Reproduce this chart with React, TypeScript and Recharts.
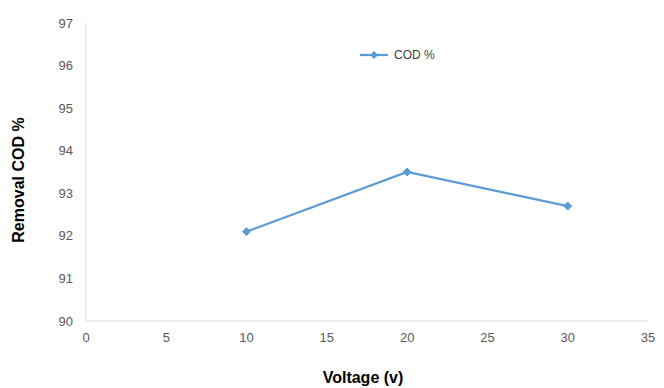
import React from "react";
import { LineChart, Line, XAxis, YAxis, Legend } from "recharts";

// Applied voltage (v) and the resulting COD removal (%)
const voltages = [10, 20, 30];
const codRemoval = [92.1, 93.5, 92.7];

const xTicks = [0, 5, 10, 15, 20, 25, 30, 35];
const yTicks = [90, 91, 92, 93, 94, 95, 96, 97];

const SERIES_NAME = "COD %";
const LINE_COLOR = "#5B9BD5";
const AXIS_COLOR = "#D9D9D9";
const TICK_COLOR = "#595959";
const FONT = "'Liberation Sans', Arial, sans-serif";

const data = voltages.map((v, i) => ({ voltage: v, cod: codRemoval[i] }));

const Diamond = (props: any) => {
  const { cx, cy } = props;
  if (cx == null || cy == null) return null;
  const r = 4;
  return (
    <polygon
      points={`${cx},${cy - r} ${cx + r},${cy} ${cx},${cy + r} ${cx - r},${cy}`}
      fill={LINE_COLOR}
      stroke={LINE_COLOR}
    />
  );
};

const LegendContent = () => (
  <div style={{ display: "flex", alignItems: "center", fontFamily: FONT, fontSize: 12, color: "#404040" }}>
    <svg width={30} height={10} style={{ marginRight: 4 }}>
      <line x1={0} y1={5} x2={28} y2={5} stroke={LINE_COLOR} strokeWidth={2.25} />
      <polygon points="14,1 18,5 14,9 10,5" fill={LINE_COLOR} />
    </svg>
    <span>{SERIES_NAME}</span>
  </div>
);

const YTitle = (props: any) => {
  const vb = props.viewBox || {};
  const x = vb.x + 18;
  const y = vb.y + vb.height / 2 + 8;
  return (
    <text
      x={x}
      y={y}
      transform={`rotate(-90 ${x} ${y})`}
      textAnchor="middle"
      dominantBaseline="central"
      fontFamily={FONT}
      fontWeight="bold"
      fontSize={16}
      fill="#000"
    >
      Removal COD %
    </text>
  );
};

const XTitle = (props: any) => {
  const vb = props.viewBox || {};
  return (
    <text
      x={vb.x + vb.width / 2 - 4}
      y={vb.y + 62}
      textAnchor="middle"
      fontFamily={FONT}
      fontWeight="bold"
      fontSize={16}
      fill="#000"
    >
      Voltage (v)
    </text>
  );
};

export default function App() {
  return (
    <div style={{ position: "absolute", left: 0, top: 0, width: 664, height: 388, background: "#fff" }}>
      <LineChart width={664} height={388} data={data} margin={{ top: 23, right: 16, bottom: 0, left: 0 }}>
        <XAxis
          dataKey="voltage"
          type="number"
          domain={[0, 35]}
          ticks={xTicks}
          interval={0}
          height={67}
          tickLine={false}
          tickSize={0}
          tickMargin={12}
          axisLine={{ stroke: AXIS_COLOR }}
          tick={{ fill: TICK_COLOR, fontSize: 13, fontFamily: FONT }}
          label={<XTitle />}
        />
        <YAxis
          type="number"
          domain={[90, 97]}
          ticks={yTicks}
          interval={0}
          width={86}
          tickLine={false}
          tickSize={0}
          tickMargin={13}
          axisLine={{ stroke: AXIS_COLOR }}
          tick={{ fill: TICK_COLOR, fontSize: 13, fontFamily: FONT }}
          label={<YTitle />}
        />
        <Legend
          layout="horizontal"
          verticalAlign="middle"
          align="center"
          wrapperStyle={{ top: 48, left: 360, width: "auto" }}
          content={<LegendContent />}
        />
        <Line
          dataKey="cod"
          name={SERIES_NAME}
          stroke={LINE_COLOR}
          strokeWidth={2.25}
          dot={<Diamond />}
          activeDot={false}
          isAnimationActive={false}
        />
      </LineChart>
    </div>
  );
}
